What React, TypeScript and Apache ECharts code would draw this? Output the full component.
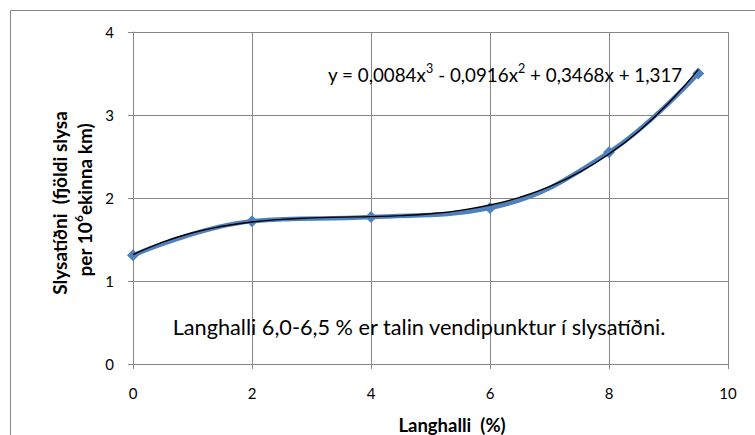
import React, { useEffect, useRef } from "react";
import * as echarts from "echarts";

const xTicks = [0, 2, 4, 6, 8, 10];
const yTicks = [0, 1, 2, 3, 4];
const dataX = [0, 2, 4, 6, 8, 9.5];
const dataY = [1.31, 1.72, 1.77, 1.88, 2.55, 3.5];
const trendX = [0, 0.5, 1, 1.5, 2, 2.5, 3, 3.5, 4, 4.5, 5, 5.5, 6, 6.5, 7, 7.5, 8, 8.5, 9, 9.5];
const trendY = [1.317, 1.469, 1.581, 1.659, 1.711, 1.743, 1.760, 1.769, 1.776, 1.788, 1.811, 1.851, 1.915, 2.008, 2.137, 2.309, 2.530, 2.805, 3.142, 3.547];
const equationText =
  "{n|y = 0,0084x}{s|3}{n| - 0,0916x}{s|2}{n| + 0,3468x + 1,317}";
const noteText = "Langhalli 6,0-6,5 % er talin vendipunktur í slysatíðni.";
const xTitle = "Langhalli  (%)";
const yTitleLine1 = "{n|Slysatíðni  (fjöldi slysa}";
const yTitleLine2 = "{n|per 10}{s|6}{n|ekinna km)}";

const FONT = "Lato, 'Noto Sans', sans-serif";
const GRID = "#868686";

export default function App() {
  const ref = useRef<HTMLDivElement>(null);
  useEffect(() => {
    if (!ref.current) return;
    const chart = echarts.init(ref.current, undefined, { renderer: "svg" });
    const titleRich = {
      n: { fontFamily: FONT, fontWeight: "bold", fontSize: 19, lineHeight: 22, verticalAlign: "bottom" },
      s: { fontFamily: FONT, fontWeight: "bold", fontSize: 12, lineHeight: 22, verticalAlign: "top" },
    };
    chart.setOption({
      animation: false,
      backgroundColor: "#ffffff",
      grid: { left: 133, right: 27, top: 32, bottom: 71 },
      xAxis: {
        type: "value",
        min: xTicks[0],
        max: xTicks[xTicks.length - 1],
        interval: 2,
        axisLine: { show: true, lineStyle: { color: GRID, width: 1 } },
        axisTick: { show: true, length: 5, lineStyle: { color: GRID } },
        splitLine: { show: true, lineStyle: { color: GRID, width: 1 } },
        axisLabel: { color: "#000", fontFamily: FONT, fontSize: 15, margin: 21 },
      },
      yAxis: {
        type: "value",
        min: yTicks[0],
        max: yTicks[yTicks.length - 1],
        interval: 1,
        axisLine: { show: true, lineStyle: { color: GRID, width: 1 } },
        axisTick: { show: true, length: 5, lineStyle: { color: GRID } },
        splitLine: { show: true, lineStyle: { color: GRID, width: 1 } },
        axisLabel: { color: "#000", fontFamily: FONT, fontSize: 15, margin: 19 },
      },
      graphic: [
        {
          type: "rect",
          shape: { x: 10.5, y: 10.5, width: 900, height: 600 },
          style: { fill: "none", stroke: GRID, lineWidth: 1 },
          silent: true,
          z: -10,
        },
        {
          type: "line",
          shape: { x1: 728.5, y1: 32, x2: 728.5, y2: 364 },
          style: { stroke: GRID, lineWidth: 1 },
          z: 1,
        },
        {
          type: "text",
          x: 58,
          y: 203,
          rotation: Math.PI / 2,
          style: { text: yTitleLine1, fill: "#000", align: "center", verticalAlign: "middle", rich: titleRich },
        },
        {
          type: "text",
          x: 83,
          y: 200,
          rotation: Math.PI / 2,
          style: { text: yTitleLine2, fill: "#000", align: "center", verticalAlign: "middle", rich: titleRich },
        },
        {
          type: "text",
          x: 452,
          y: 425,
          style: {
            text: xTitle,
            fontFamily: FONT,
            fontWeight: "bold",
            fontSize: 18.5,
            fill: "#000",
            align: "center",
            verticalAlign: "middle",
          },
        },
        {
          type: "text",
          x: 505,
          y: 73,
          style: {
            text: equationText,
            fill: "#000",
            align: "center",
            verticalAlign: "middle",
            rich: {
              n: { fontFamily: FONT, fontSize: 18.8, lineHeight: 22, verticalAlign: "bottom" },
              s: { fontFamily: FONT, fontSize: 12.5, lineHeight: 22, verticalAlign: "top" },
            },
          },
          z: 10,
        },
        {
          type: "text",
          x: 419,
          y: 327,
          style: {
            text: noteText,
            fontFamily: FONT,
            fontSize: 21.7,
            fill: "#000",
            align: "center",
            verticalAlign: "middle",
          },
          z: 10,
        },
      ],
      series: [
        {
          type: "line",
          data: dataX.map((x, i) => [x, dataY[i]]),
          smooth: 0.4,
          symbol: "diamond",
          symbolSize: 12,
          lineStyle: { color: "#4F81BD", width: 4.5 },
          itemStyle: { color: "#4F81BD" },
          z: 2,
        },
        {
          type: "line",
          data: trendX.map((x, i) => [x, trendY[i]]),
          smooth: true,
          symbol: "none",
          lineStyle: { color: "#000", width: 1.4 },
          z: 3,
        },
      ],
    });
    return () => chart.dispose();
  }, []);
  return (
    <div
      ref={ref}
      style={{ position: "fixed", left: 0, top: 0, width: 755, height: 435 }}
    />
  );
}
